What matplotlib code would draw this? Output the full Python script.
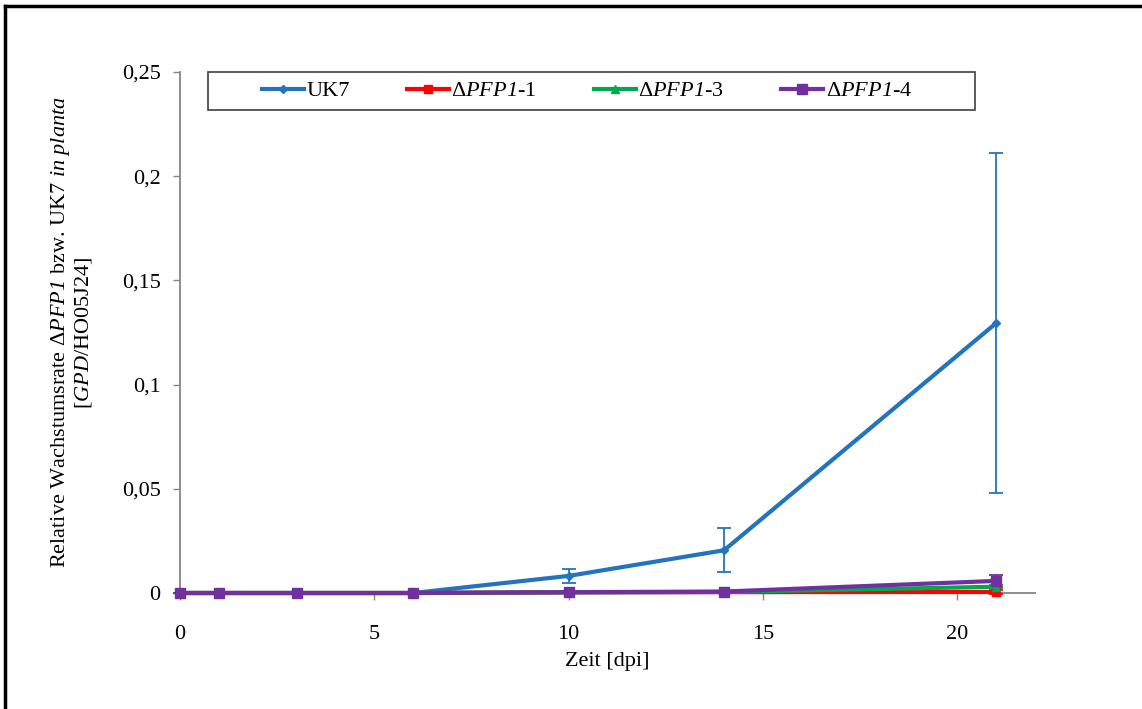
import matplotlib
matplotlib.use("Agg")
import matplotlib.pyplot as plt
from matplotlib.lines import Line2D
from matplotlib.patches import Rectangle

plt.rcParams['font.family'] = ['Liberation Serif', 'DejaVu Serif']
plt.rcParams['mathtext.fontset'] = 'custom'
plt.rcParams['mathtext.rm'] = 'Liberation Serif'
plt.rcParams['mathtext.it'] = 'Liberation Serif:italic'
# italic face that also applies to digits (used for gene names)
plt.rcParams['mathtext.bf'] = 'Liberation Serif:italic'

# Time points (dpi)
days = [0, 1, 3, 6, 10, 14, 21]

# Relative growth rate per strain
uk7 = [0, 0, 0, 0, 0.0082, 0.0205, 0.1295]
uk7_err = [0, 0, 0, 0, 0.0033, 0.0105, 0.0815]
pfp1_1 = [0, 0, 0, 0, 0.0003, 0.0004, 0.0005]
pfp1_1_err = [0, 0, 0, 0, 0.0002, 0.0002, 0.0008]
pfp1_3 = [0, 0, 0, 0, 0.0003, 0.0005, 0.0030]
pfp1_3_err = [0, 0, 0, 0, 0.0002, 0.0002, 0.0010]
pfp1_4 = [0, 0, 0, 0, 0.0004, 0.0007, 0.0058]
pfp1_4_err = [0, 0, 0, 0, 0.0002, 0.0003, 0.0030]

labels = ['UK7', r'$\Delta\mathbf{PFP1}$-1', r'$\Delta\mathbf{PFP1}$-3', r'$\Delta\mathbf{PFP1}$-4']
colors = ['#2473BE', '#FF0000', '#00A94F', '#7030A0']
markers = ['D', 's', '^', 's']
msizes = [4, 6, 6, 7]

FS = 16
W, H = 1142, 709
fig = plt.figure(figsize=(W / 100, H / 100), dpi=100)
ax = fig.add_axes([180 / W, 1 - 593 / H, (1035 - 180) / W, (593 - 72) / H])

series = [(uk7, uk7_err), (pfp1_1, pfp1_1_err), (pfp1_3, pfp1_3_err), (pfp1_4, pfp1_4_err)]
for (vals, errs), c, m, ms in zip(series, colors, markers, msizes):
    ax.errorbar(days, vals, yerr=errs, color=c, lw=3, marker=m, ms=ms,
                elinewidth=1.3, capsize=5, capthick=1.3, clip_on=False, zorder=3)

ax.set_xlim(0, 22)
ax.set_ylim(0, 0.25)
ax.set_xticks([0, 5, 10, 15, 20])
ax.set_yticks([0, 0.05, 0.1, 0.15, 0.2, 0.25])
ax.set_yticklabels(['0', '0,05', '0,1', '0,15', '0,2', '0,25'])
for s in ['top', 'right']:
    ax.spines[s].set_visible(False)
for s in ['left', 'bottom']:
    ax.spines[s].set_color('#858585')
    ax.spines[s].set_linewidth(1.3)
ax.tick_params(axis='both', colors='#858585', labelcolor='black', labelsize=FS,
               length=5, width=1)
ax.tick_params(axis='y', pad=9)
ax.tick_params(axis='x', pad=18)

ax.set_xlabel('Zeit [dpi]', fontsize=FS, labelpad=6)
ax.set_ylabel('Relative Wachstumsrate $\\Delta\\mathbf{PFP1}$ bzw. UK7 $\\mathbf{in\\ planta}$\n'
              '[$\\mathbf{GPD}$/HO05J24]', fontsize=FS, labelpad=20, linespacing=1.05)

# Legend box with evenly spread entries
ax.add_patch(Rectangle((208 / W, 1 - 110 / H), (975 - 208) / W, 38 / H,
                       transform=fig.transFigure, fill=False, edgecolor='#404040',
                       lw=1.2, clip_on=False, zorder=4))
handles = [Line2D([], [], color=c, lw=3, marker=m, ms=ms) for c, m, ms in zip(colors, markers, msizes)]
leg = fig.legend(handles, labels, ncol=4, loc='center left',
                 bbox_to_anchor=(262 / W, 1 - 91 / H, (912 - 262) / W, 0),
                 mode='expand', frameon=False, fontsize=FS,
                 handlelength=1.9, handletextpad=0.1, borderpad=0, borderaxespad=0)

# Outer frame around the figure
fig.add_artist(Line2D([5 / W, 1.0], [1 - 6 / H, 1 - 6 / H], color='black', lw=2.5,
                      transform=fig.transFigure))
fig.add_artist(Line2D([5 / W, 5 / W], [1 - 6 / H, 0.0], color='black', lw=2.5,
                      transform=fig.transFigure))

fig.savefig('out.png', dpi=100)
